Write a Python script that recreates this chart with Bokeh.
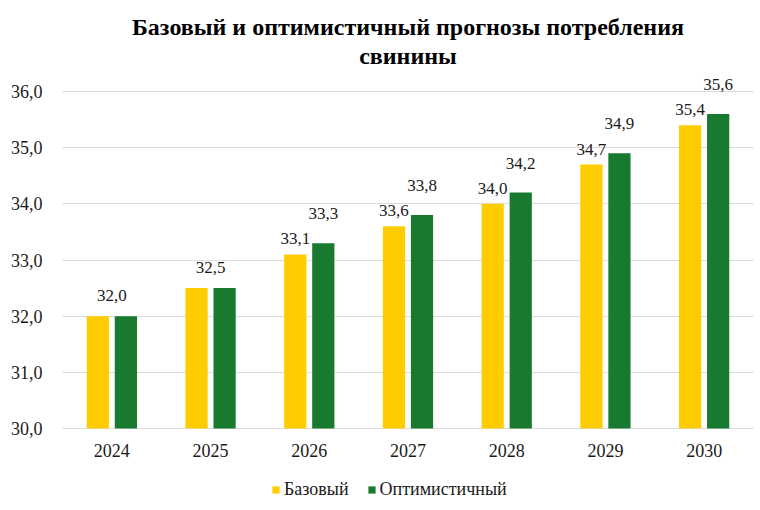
from bokeh.plotting import figure
from bokeh.models import ColumnDataSource, Legend, LegendItem, Title, FixedTicker, Range1d
from bokeh.core.properties import value
from bokeh.embed import file_html
from bokeh.resources import INLINE

years = ["2024", "2025", "2026", "2027", "2028", "2029", "2030"]
base = [32.0, 32.5, 33.1, 33.6, 34.0, 34.7, 35.4]
optim = [32.0, 32.5, 33.3, 33.8, 34.2, 34.9, 35.6]
y_ticks = [30, 31, 32, 33, 34, 35, 36]
y_tick_labels = ["30,0", "31,0", "32,0", "33,0", "34,0", "35,0", "36,0"]
title_lines = ["Базовый и оптимистичный прогнозы потребления", "свинины"]
series_names = ["Базовый", "Оптимистичный"]

YELLOW = "#FFCC00"
GREEN = "#177A2E"
TXT = "#1A1A1A"
FONT = "Liberation Serif"
W = 0.225
OFF = 0.142

# layout (pixels)
FIG_W, FIG_H = 760, 510
FRAME_TOP = 70          # frame top (title panel height)
AXIS_TOP, AXIS_BOTTOM = 91, 428   # pixel rows of 36,0 and 30,0
Y_MIN, Y_MAX = 30.0, 36.0
ppu = (AXIS_BOTTOM - AXIS_TOP) / (Y_MAX - Y_MIN)
y_end = Y_MAX + (AXIS_TOP - FRAME_TOP) / ppu
y_start = Y_MIN - (FIG_H - AXIS_BOTTOM) / ppu

def fmt(v):
    return f"{v:.1f}".replace(".", ",")

idx = list(range(len(years)))
src = ColumnDataSource(dict(
    xb=[i - OFF for i in idx], xg=[i + OFF for i in idx], base=base, optim=optim))

p = figure(x_range=Range1d(-0.5, len(years) - 0.5), y_range=Range1d(y_start, y_end),
           width=FIG_W, height=FIG_H, output_backend="svg", toolbar_location=None,
           min_border_left=62, min_border_right=7, min_border_top=FRAME_TOP,
           min_border_bottom=0)
p.outline_line_color = None

rb = p.vbar(x="xb", top="base", bottom=Y_MIN, width=W, source=src,
            fill_color=YELLOW, line_color=None)
rg = p.vbar(x="xg", top="optim", bottom=Y_MIN, width=W, source=src,
            fill_color=GREEN, line_color=None)

# value labels: one shared label when both series are equal
groups = {"b": ([], [], []), "g": ([], [], []), "s": ([], [], [])}
for i, b, o in zip(idx, base, optim):
    if abs(b - o) < 1e-9:
        g = groups["s"]; g[0].append(i); g[1].append(b); g[2].append(fmt(b))
    else:
        g = groups["b"]; g[0].append(i - OFF); g[1].append(b); g[2].append(fmt(b))
        g = groups["g"]; g[0].append(i + OFF); g[1].append(o); g[2].append(fmt(o))
offsets = {"b": -10, "g": -24, "s": -15}
for k, (xs, ys, ts) in groups.items():
    p.text(x=xs, y=ys, text=ts, text_align="center", text_baseline="bottom",
           y_offset=offsets[k], text_font=value(FONT), text_font_size="17px",
           text_color=TXT)

# category labels under the 30,0 line
p.text(x=idx, y=[Y_MIN] * len(idx), text=years, text_align="center",
       text_baseline="middle", y_offset=22, text_font=value(FONT),
       text_font_size="18px", text_color=TXT)

p.xaxis.visible = False
p.yaxis.ticker = FixedTicker(ticks=y_ticks)
p.yaxis.major_label_overrides = {t: l for t, l in zip(y_ticks, y_tick_labels)}
p.yaxis.axis_line_color = None
p.yaxis.major_tick_line_color = None
p.yaxis.minor_tick_line_color = None
p.yaxis.major_label_text_font = FONT
p.yaxis.major_label_text_font_size = "18px"
p.yaxis.major_label_text_color = TXT
p.yaxis.major_label_standoff = 14
p.xgrid.grid_line_color = None
p.ygrid.grid_line_color = "#DCDCDC"

legend = Legend(items=[LegendItem(label=series_names[0], renderers=[rb]),
                       LegendItem(label=series_names[1], renderers=[rg])],
                orientation="horizontal", location=(209, 10),
                label_text_font=FONT, label_text_font_size="18px",
                label_text_color=TXT, glyph_width=9, glyph_height=9,
                spacing=18, label_standoff=4, border_line_color=None,
                background_fill_alpha=0, padding=0, margin=0)
p.add_layout(legend)

t2 = Title(text=title_lines[1], align="center", text_font=FONT, text_font_size="24px",
           text_font_style="bold", text_color="#000000", standoff=3)
t1 = Title(text=title_lines[0], align="center", text_font=FONT, text_font_size="24px",
           text_font_style="bold", text_color="#000000", standoff=0)
p.add_layout(t2, "above")
p.add_layout(t1, "above")

open("out.html", "w").write(file_html(p, INLINE))
